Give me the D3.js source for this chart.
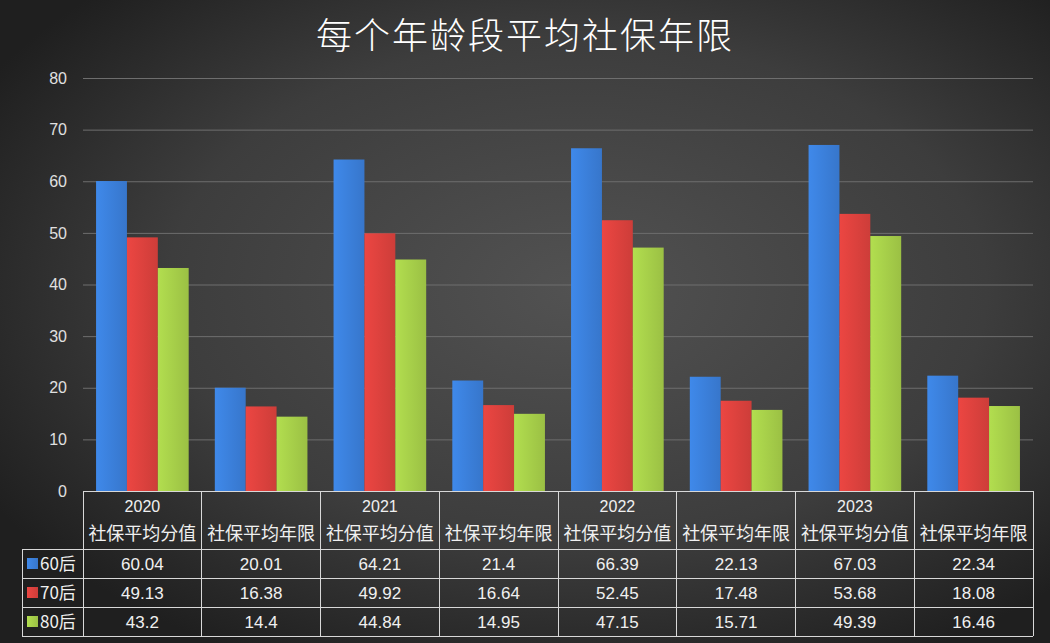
<!DOCTYPE html>
<html>
<head>
<meta charset="utf-8">
<script src="https://cdn.jsdelivr.net/npm/d3@7"></script>
<style>
  html, body { margin: 0; padding: 0; background: #2a2a2a; }
  svg { display: block; }
</style>
</head>
<body>
<svg id="chart" width="1050" height="643"></svg>
<script>
// data
const years = ['2020', '2021', '2022', '2023'];
const metrics = ['社保平均分值', '社保平均年限'];
const seriesNames = ['60后', '70后', '80后'];
const seriesColors = ['#3a7dd6', '#d8403c', '#a3cb48'];
const values60 = [60.04, 20.01, 64.21, 21.4, 66.39, 22.13, 67.03, 22.34];
const values70 = [49.13, 16.38, 49.92, 16.64, 52.45, 17.48, 53.68, 18.08];
const values80 = [43.2, 14.4, 44.84, 14.95, 47.15, 15.71, 49.39, 16.46];
const yTicks = [0, 10, 20, 30, 40, 50, 60, 70, 80];

const seriesValues = [values60, values70, values80];
const categories = [];
years.forEach(y => metrics.forEach(m => categories.push({year: y, metric: m, key: y + m})));

let svg = d3.select('svg');
const W = 1050, H = 643;
const plotLeft = 83, plotRight = 1033, plotTop = 78, base = 491;
const rowH = 29, headH = 58;

// background
let defs = svg.append('defs');
let bg = defs.append('radialGradient').attr('id', 'bg')
	.attr('cx', '55%').attr('cy', '45%').attr('r', '65%');
bg.append('stop').attr('offset', '0%').attr('stop-color', '#525252');
bg.append('stop').attr('offset', '60%').attr('stop-color', '#3d3d3d');
bg.append('stop').attr('offset', '100%').attr('stop-color', '#1f1f1f');
svg.append('rect').attr('width', W).attr('height', H).attr('fill', 'url(#bg)');

// bar gradients (slightly lighter on the left)
seriesColors.forEach((c, i) => {
	let g = defs.append('linearGradient').attr('id', 'bar' + i)
		.attr('x1', '0%').attr('x2', '100%').attr('y1', '0%').attr('y2', '0%');
	g.append('stop').attr('offset', '0%').attr('stop-color', d3.color(c).brighter(0.25));
	g.append('stop').attr('offset', '100%').attr('stop-color', d3.color(c).darker(0.15));
});

// scales
let x = d3.scaleBand().domain(categories.map(d => d.key)).range([plotLeft, plotRight]).paddingInner(0.22).paddingOuter(0.11);
let xs = d3.scaleBand().domain(seriesNames).range([0, x.bandwidth()]);
let y = d3.scaleLinear().domain([0, 80]).range([base, plotTop]);
let col = d3.scaleBand().domain(categories.map(d => d.key)).range([plotLeft, plotRight]);

// title
svg.append('text')
	.attr('x', W / 2).attr('y', 49)
	.attr('text-anchor', 'middle')
	.attr('fill', '#ffffff')
	.style('font-family', '"Noto Sans CJK SC", sans-serif')
	.style('font-size', '36px')
	.style('font-weight', '300')
	.style('letter-spacing', '2px')
	.text('每个年龄段平均社保年限');

// grid + y axis
let yAxis = svg.append('g').attr('transform', 'translate(' + plotLeft + ',0)')
	.call(d3.axisLeft(y).tickValues(yTicks).tickSize(-(plotRight - plotLeft)).tickPadding(16));
yAxis.select('.domain').remove();
yAxis.selectAll('.tick line').attr('stroke', '#6e6e6e').attr('stroke-width', 1)
	.filter(d => d === 0).remove();
yAxis.selectAll('.tick text')
	.attr('fill', '#e0e0e0')
	.style('font-family', '"Liberation Sans", sans-serif')
	.style('font-size', '16px');

// bars
let groups = svg.append('g').selectAll('g')
	.data(categories)
	.enter()
	.append('g')
	.attr('transform', d => 'translate(' + x(d.key) + ',0)');
groups.selectAll('rect')
	.data((d, ci) => seriesNames.map((s, si) => ({s: s, si: si, v: seriesValues[si][ci]})))
	.enter()
	.append('rect')
	.attr('x', d => xs(d.s))
	.attr('width', xs.bandwidth())
	.attr('y', d => y(d.v))
	.attr('height', d => base - y(d.v))
	.attr('fill', d => 'url(#bar' + d.si + ')');

// data table
let tbl = svg.append('g');
const lineColor = '#d8d8d8';
const tableBottom = base + headH + rowH * 3;
// horizontal lines
tbl.append('line').attr('x1', plotLeft).attr('x2', plotRight).attr('y1', base).attr('y2', base);
[0, 1, 2, 3].forEach(r => {
	tbl.append('line').attr('x1', 22).attr('x2', plotRight)
		.attr('y1', base + headH + r * rowH).attr('y2', base + headH + r * rowH);
});
// vertical lines
categories.forEach(d => {
	tbl.append('line').attr('x1', col(d.key)).attr('x2', col(d.key)).attr('y1', base).attr('y2', tableBottom);
});
tbl.append('line').attr('x1', plotRight).attr('x2', plotRight).attr('y1', base).attr('y2', tableBottom);
tbl.append('line').attr('x1', 22).attr('x2', 22).attr('y1', base + headH).attr('y2', tableBottom);
tbl.selectAll('line').attr('stroke', lineColor).attr('stroke-width', 1).attr('shape-rendering', 'crispEdges');

// header texts
categories.forEach((d, i) => {
	let cx = col(d.key) + col.bandwidth() / 2;
	if (d.metric === metrics[0]) {
		tbl.append('text').attr('x', cx).attr('y', base + 21)
			.attr('text-anchor', 'middle').attr('fill', '#f0f0f0')
			.style('font-family', '"Liberation Sans", sans-serif').style('font-size', '16px')
			.text(d.year);
	}
	tbl.append('text').attr('x', cx).attr('y', base + 49)
		.attr('text-anchor', 'middle').attr('fill', '#f0f0f0')
		.style('font-family', '"Noto Sans CJK SC", sans-serif').style('font-size', '18px')
		.text(d.metric);
});

// value rows
seriesNames.forEach((s, si) => {
	let ry = base + headH + si * rowH;
	tbl.append('rect').attr('x', 27).attr('y', ry + 9).attr('width', 11).attr('height', 11)
		.attr('fill', 'url(#bar' + si + ')');
	tbl.append('text').attr('x', 40).attr('y', ry + 21)
		.attr('fill', '#f0f0f0')
		.style('font-family', '"Noto Sans CJK SC", sans-serif').style('font-size', '17px')
		.text(s);
	categories.forEach((d, ci) => {
		tbl.append('text').attr('x', col(d.key) + col.bandwidth() / 2).attr('y', ry + 21)
			.attr('text-anchor', 'middle').attr('fill', '#f0f0f0')
			.style('font-family', '"Liberation Sans", sans-serif').style('font-size', '17px')
			.text(seriesValues[si][ci]);
	});
});
</script>
</body>
</html>
